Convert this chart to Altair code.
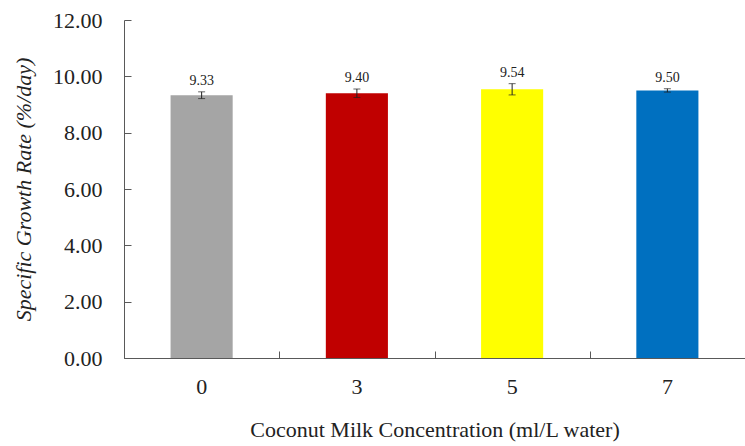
import altair as alt
import pandas as pd

concentrations = ["0", "3", "5", "7"]
means = [9.33, 9.40, 9.54, 9.50]
errors = [0.12, 0.15, 0.20, 0.06]
labels = ["9.33", "9.40", "9.54", "9.50"]
colors = ["#A5A5A5", "#C00000", "#FFFF00", "#0070C0"]

df = pd.DataFrame({
    "conc": concentrations,
    "mean": means,
    "err": errors,
    "label": labels,
})
df["lo"] = df["mean"] - df["err"]
df["hi"] = df["mean"] + df["err"]

FONT = "Liberation Serif"
xscale = alt.Scale(domain=concentrations, paddingInner=0, paddingOuter=0)
yscale = alt.Scale(domain=[0, 12])

base = alt.Chart(df)

bars = base.mark_bar(width=alt.RelativeBandSize(0.4)).encode(
    x=alt.X("conc:N", sort=concentrations, scale=xscale,
            axis=alt.Axis(orient="bottom", title="Coconut Milk Concentration (ml/L water)",
                          labelAngle=0, ticks=False, domain=True, domainColor="#595959",
                          labelFont=FONT, labelFontSize=22, labelColor="#222222",
                          labelPadding=18, titleFont=FONT, titleFontSize=22,
                          titleFontWeight="normal", titleColor="#222222", titlePadding=22)),
    y=alt.Y("mean:Q", scale=yscale,
            axis=alt.Axis(orient="left", title="Specific Growth Rate (%/day)",
                          values=[0, 2, 4, 6, 8, 10, 12], format=".2f", ticks=False,
                          grid=False, domain=True, domainColor="#595959",
                          labelFont=FONT, labelFontSize=22, labelColor="#222222",
                          labelPadding=22, titleFont=FONT, titleFontSize=22,
                          titleFontStyle="italic", titleFontWeight="normal",
                          titleColor="#222222", titlePadding=17)),
    color=alt.Color("conc:N", scale=alt.Scale(domain=concentrations, range=colors), legend=None),
)

rules = base.mark_rule(color="#222222", strokeWidth=1).encode(
    x=alt.X("conc:N", sort=concentrations, scale=xscale, axis=None),
    y=alt.Y("lo:Q", scale=yscale, axis=None),
    y2="hi:Q",
)
cap_lo = base.mark_tick(color="#222222", size=7, thickness=1, orient="horizontal").encode(
    x=alt.X("conc:N", sort=concentrations, scale=xscale, axis=None),
    y=alt.Y("lo:Q", scale=yscale, axis=None),
)
cap_hi = base.mark_tick(color="#222222", size=7, thickness=1, orient="horizontal").encode(
    x=alt.X("conc:N", sort=concentrations, scale=xscale, axis=None),
    y=alt.Y("hi:Q", scale=yscale, axis=None),
)
text = base.mark_text(font=FONT, fontSize=14, color="#222222", baseline="bottom", dy=-4).encode(
    x=alt.X("conc:N", sort=concentrations, scale=xscale, axis=None),
    y=alt.Y("hi:Q", scale=yscale, axis=None),
    text="label:N",
)

tick_layer = base.mark_bar(opacity=0).encode(
    x=alt.X("conc:N", sort=concentrations, scale=xscale,
            axis=alt.Axis(orient="bottom", offset=-7, ticks=True, tickSize=7,
                          tickBand="extent", tickColor="#595959", labels=False,
                          domain=False, title=None, grid=False)),
    y=alt.Y("mean:Q", scale=yscale,
            axis=alt.Axis(orient="left", offset=-7, ticks=True, tickSize=7,
                          values=[0, 2, 4, 6, 8, 10, 12], tickColor="#595959",
                          labels=False, domain=False, title=None, grid=False)),
)

chart = alt.layer(bars, rules, cap_lo, cap_hi, text, tick_layer).resolve_axis(
    x="independent", y="independent"
).properties(
    width=621,
    height=338,
    autosize=alt.AutoSizeParams(type="none"),
    padding={"left": 124, "top": 20, "right": 0, "bottom": 88},
    background="white",
).configure_view(stroke=None)

chart.save("out.html", embed_options={"renderer": "svg", "actions": False})
